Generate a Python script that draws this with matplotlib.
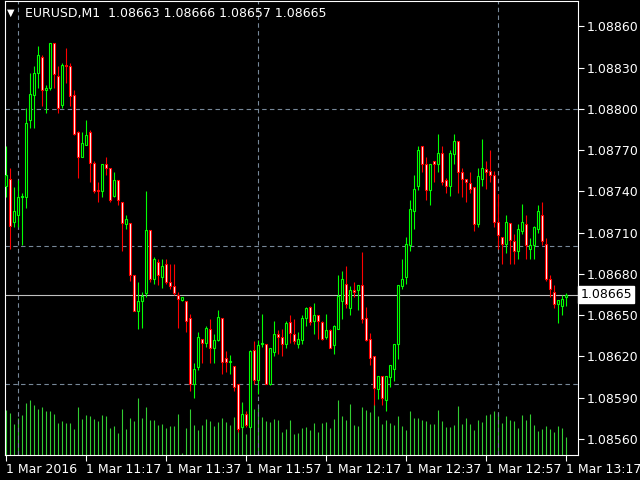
import matplotlib
matplotlib.use("Agg")
import matplotlib.pyplot as plt
from matplotlib.patches import Rectangle

# prices in points (1e-5) above 1.08560
base = 1.08560
O = [184, 189, 158, 163, 176, 176, 232, 250, 266, 278, 254, 255, 288, 264, 243, 272, 271, 250, 223, 205,
     214, 223, 201, 181, 180, 200, 197, 177, 188, 172, 156, 157, 119, 93, 100, 106, 152, 116, 129, 118,
     127, 114, 111, 105, 101, 100, 88, 40, 52, 73, 70, 80, 66, 72, 88, 59, 56, 53, 40, 9,
     18, 9, 65, 43, 69, 69, 40, 63, 76, 74, 69, 85, 76, 69, 72, 88, 96, 86, 90, 85,
     74, 79, 68, 80, 100, 113, 95, 108, 108, 112, 88, 73, 60, 36, 46, 28, 45, 51, 69, 111,
     118, 141, 166, 184, 213, 200, 181, 202, 200, 208, 188, 184, 207, 217, 194, 189, 186, 183, 156, 189,
     196, 195, 192, 158, 147, 142, 157, 144, 137, 151, 156, 138, 141, 153, 163, 142, 116, 107, 98, 97, 103]
H = [213, 197, 183, 188, 179, 241, 266, 271, 286, 279, 257, 288, 288, 271, 273, 284, 273, 254, 224, 223,
     232, 225, 202, 187, 200, 205, 197, 194, 188, 172, 163, 157, 119, 114, 107, 180, 152, 132, 131, 131,
     131, 127, 127, 107, 103, 100, 91, 55, 78, 73, 82, 87, 76, 94, 88, 64, 61, 53, 40, 26,
     20, 65, 71, 72, 91, 69, 66, 86, 79, 80, 86, 90, 87, 78, 90, 96, 97, 99, 90, 86,
     91, 80, 83, 119, 122, 126, 111, 114, 112, 136, 96, 77, 60, 46, 46, 46, 54, 69, 112, 131,
     147, 174, 192, 213, 213, 205, 200, 202, 222, 213, 190, 210, 222, 217, 197, 189, 194, 183, 197, 218,
     202, 210, 195, 178, 147, 163, 157, 149, 156, 171, 163, 146, 155, 170, 172, 146, 119, 112, 101, 105, 106]
L = [176, 138, 154, 154, 141, 168, 226, 226, 255, 242, 237, 254, 255, 237, 241, 259, 242, 221, 190, 205,
     214, 187, 179, 172, 176, 192, 172, 176, 170, 137, 153, 115, 93, 80, 81, 103, 114, 113, 112, 110,
     113, 109, 105, 81, 100, 78, 35, 30, 50, 55, 67, 55, 55, 71, 47, 49, 47, 35, 5, 8,
     9, 9, 40, 33, 67, 40, 39, 60, 62, 60, 66, 70, 69, 66, 69, 82, 83, 76, 73, 72,
     73, 66, 62, 80, 87, 95, 90, 103, 94, 84, 71, 54, 25, 29, 25, 20, 38, 42, 58, 109,
     113, 137, 153, 181, 194, 174, 170, 187, 194, 185, 179, 177, 200, 179, 176, 172, 179, 151, 154, 184,
     182, 187, 154, 138, 127, 135, 127, 127, 131, 149, 131, 131, 131, 150, 141, 115, 103, 95, 84, 90, 97]
C = [192, 155, 166, 176, 177, 230, 251, 266, 279, 254, 255, 288, 265, 241, 272, 271, 249, 222, 205, 215,
     221, 201, 180, 180, 200, 197, 174, 188, 174, 157, 160, 119, 93, 100, 104, 152, 116, 131, 119, 126,
     114, 111, 106, 102, 103, 86, 40, 51, 74, 70, 81, 66, 72, 89, 56, 56, 57, 38, 7, 18,
     10, 64, 43, 68, 70, 40, 66, 76, 74, 69, 84, 77, 71, 73, 88, 95, 85, 90, 86, 73,
     79, 66, 82, 104, 116, 98, 108, 107, 112, 87, 72, 59, 37, 46, 30, 46, 54, 69, 112, 116,
     142, 167, 182, 210, 200, 181, 200, 200, 208, 187, 184, 208, 217, 194, 189, 187, 182, 156, 191, 197,
     194, 192, 158, 148, 142, 158, 145, 137, 153, 158, 141, 141, 154, 166, 144, 116, 109, 98, 101, 102, 105]
V = [45, 42, 31, 37, 40, 52, 55, 50, 46, 48, 44, 44, 41, 32, 34, 32, 32, 26, 48, 36,
     40, 39, 36, 34, 40, 39, 27, 29, 22, 46, 26, 37, 34, 57, 37, 48, 35, 35, 30, 31,
     27, 29, 29, 41, 2, 27, 46, 30, 25, 30, 36, 34, 29, 33, 37, 33, 30, 38, 47, 53,
     21, 43, 46, 48, 38, 34, 33, 36, 35, 23, 26,
     35, 21, 22, 27, 28, 25, 32, 23, 32, 33, 27, 36, 55, 39, 35, 51, 30, 29, 48, 45,
     43, 51, 39, 31, 35, 32, 30, 39, 29, 25, 44, 37, 37, 35, 34, 31, 31, 45, 34, 28,
     28, 30, 49, 31, 37, 31, 25, 35, 33, 40, 41, 44, 42, 32, 39, 35, 34, 27, 40, 35,
     41, 30, 24, 26, 29, 26, 23, 29, 27, 18]
xlabels = ["1 Mar 2016", "1 Mar 11:17", "1 Mar 11:37", "1 Mar 11:57", "1 Mar 12:17",
           "1 Mar 12:37", "1 Mar 12:57", "1 Mar 13:17"]
xlabel_pos = [0, 20, 40, 60, 80, 100, 120, 140]
vgrid = [3, 63, 123]
yticks = [1.08560, 1.08590, 1.08620, 1.08650, 1.08680, 1.08710, 1.08740, 1.08770, 1.08800, 1.08830, 1.08860]
hgrid = [1.08600, 1.08700, 1.08800]
last = 1.08665

def px(p):
    return base + p / 1e5

bull = '#00ff00'
bear = '#ff0000'
grid_c = '#778899'

fig = plt.figure(figsize=(6.4, 4.8), dpi=100, facecolor='black')
ax = fig.add_axes([5 / 640, 25 / 480, 573 / 640, 454 / 480], facecolor='black')
vax = ax.twinx()
vax.set_zorder(0)
ax.set_zorder(1)
ax.patch.set_visible(False)

for i in range(len(V)):
    vax.vlines(i, 0, V[i], color='#32cd32', lw=0.8)
vax.set_ylim(0, 454)
vax.axis('off')

for g in vgrid:
    ax.axvline(g, color=grid_c, lw=0.8, ls=(0, (4, 3)), zorder=0)
for g in hgrid:
    ax.axhline(g, color=grid_c, lw=0.8, ls=(0, (4, 3)), zorder=0)
ax.axhline(last, color='#c0c0c0', lw=0.8, zorder=1)

for i in range(len(C)):
    o, h, l, c = px(O[i]), px(H[i]), px(L[i]), px(C[i])
    up = C[i] >= O[i]
    col = bull if up else bear
    ax.vlines(i, l, h, color=col, lw=0.8, zorder=2)
    lo, hi = min(o, c), max(o, c)
    ax.add_patch(Rectangle((i - 0.35, lo), 0.7, max(hi - lo, 1e-6), facecolor='black' if up else 'white',
                           edgecolor=col, lw=0.8, zorder=3))

ax.set_xlim(-0.25, 143)
ax.set_ylim(base - 16 * 0.727e-5, base + 438 * 0.727e-5)
for s in ['left', 'top']:
    ax.spines[s].set_color('white')
    ax.spines[s].set_linewidth(0.8)
ax.spines['right'].set_color('white')
ax.spines['bottom'].set_color('white')
ax.yaxis.tick_right()
ax.set_yticks(yticks)
ax.set_yticklabels(['%.5f' % t for t in yticks])
ax.set_xticks(xlabel_pos)
ax.set_xticklabels(xlabels, ha='left')
ax.tick_params(colors='white', labelsize=9, length=4, width=0.8, pad=2)
for t in ax.get_xticklabels():
    t.set_x(0)
ax.text(1.004, last, '1.08665', transform=ax.get_yaxis_transform(), color='black', fontsize=9,
        va='center', ha='left', bbox=dict(facecolor='white', edgecolor='white', pad=1.5), zorder=5,
        clip_on=False)
ax.text(0.004, 0.985, '\u25BC', transform=ax.transAxes, color='white', fontsize=7, va='top')
ax.text(0.035, 0.987, 'EURUSD,M1  1.08663 1.08666 1.08657 1.08665', transform=ax.transAxes,
        color='white', fontsize=9, va='top')

fig.savefig('out.png', dpi=100, facecolor='black')
